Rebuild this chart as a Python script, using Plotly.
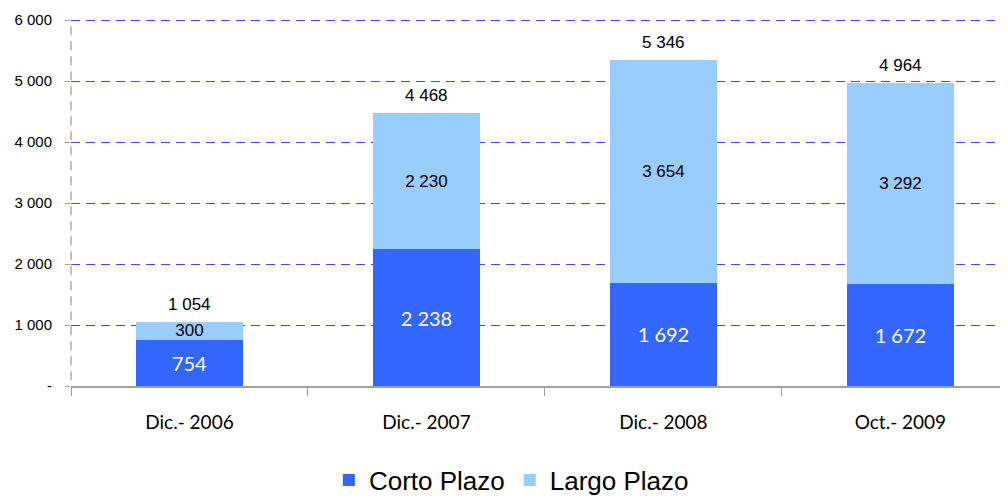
import plotly.graph_objects as go

categories = ["Dic.- 2006", "Dic.- 2007", "Dic.- 2008", "Oct.- 2009"]
corto = [754, 2238, 1692, 1672]
largo = [300, 2230, 3654, 3292]
totals = [1054, 4468, 5346, 4964]
ytick_vals = [0, 1000, 2000, 3000, 4000, 5000, 6000]
ytick_text = ["-", "1 000", "2 000", "3 000", "4 000", "5 000", "6 000"]

def fmt(v):
    return f"{v:,}".replace(",", " ")

ARIAL = "Liberation Sans, Arial, sans-serif"
CAL = "Lato, Open Sans, sans-serif"

Y_MAX = 6000
PLOT_H = 366  # plot-area height in px (489 - 12 - 111)
HALF_PX = Y_MAX / PLOT_H / 2  # to put 1px gridlines on pixel centres

fig = go.Figure()
fig.add_trace(go.Bar(
    x=categories, y=corto, name="Corto Plazo", marker_color="#3366FF",
    marker_line_width=0, width=0.45,
    text=[fmt(v) for v in corto], textposition="inside", insidetextanchor="middle",
    constraintext="none",
    insidetextfont=dict(family=CAL, size=20, color="white"),
))
fig.add_trace(go.Bar(
    x=categories, y=largo, name="Largo Plazo", marker_color="#99CCFF",
    marker_line_width=0, width=0.45,
    text=[fmt(v) for v in largo], textposition="inside", insidetextanchor="middle",
    constraintext="none",
    insidetextfont=dict(family=ARIAL, size=17, color="black"),
))
for c, t in zip(categories, totals):
    fig.add_annotation(x=c, y=t, text=fmt(t), showarrow=False, yanchor="bottom",
                       yshift=6, font=dict(family=ARIAL, size=17, color="black"))

# dashed horizontal gridlines
for v in ytick_vals[1:]:
    fig.add_shape(type="line", xref="paper", yref="y", x0=0, x1=1,
                  y0=v - HALF_PX, y1=v - HALF_PX,
                  line=dict(color="#4646FF", width=1, dash="9px,6px"), layer="below")

# dashed left axis
fig.add_shape(type="line", xref="paper", yref="y", x0=0, x1=0, y0=-150, y1=Y_MAX,
              line=dict(color="#999999", width=1.2, dash="9px,6px"))

# page body adds an 8px offset; figure is sized/margined to compensate
fig.update_layout(
    barmode="stack", bargap=0.55,
    width=1000, height=489,
    margin=dict(l=63, r=0, t=12, b=111, autoexpand=False),
    plot_bgcolor="white", paper_bgcolor="white",
    font=dict(family=ARIAL, color="black"),
    showlegend=True,
    legend=dict(orientation="h", x=0.47, xanchor="center", y=-0.257, yanchor="middle",
                font=dict(size=26, family=ARIAL),
                traceorder="normal", itemwidth=30),
    xaxis=dict(range=[-0.5, 3.454], showline=True, linecolor="#A0A0A0", linewidth=1.5,
               ticks="outside", tickson="boundaries", ticklen=8, tickcolor="#A0A0A0",
               tickfont=dict(family=CAL, size=19, color="black"),
               ticklabelstandoff=18, showgrid=False, zeroline=False, automargin=False),
    yaxis=dict(range=[0, Y_MAX], tickvals=ytick_vals, ticktext=ytick_text,
               showgrid=False, zeroline=False, showline=False, ticks="outside", ticklen=5,
               tickcolor="#A0A0A0", automargin=False,
               tickfont=dict(family=ARIAL, size=15, color="black"),
               ticklabelstandoff=10),
)

fig.write_html("out.html")
